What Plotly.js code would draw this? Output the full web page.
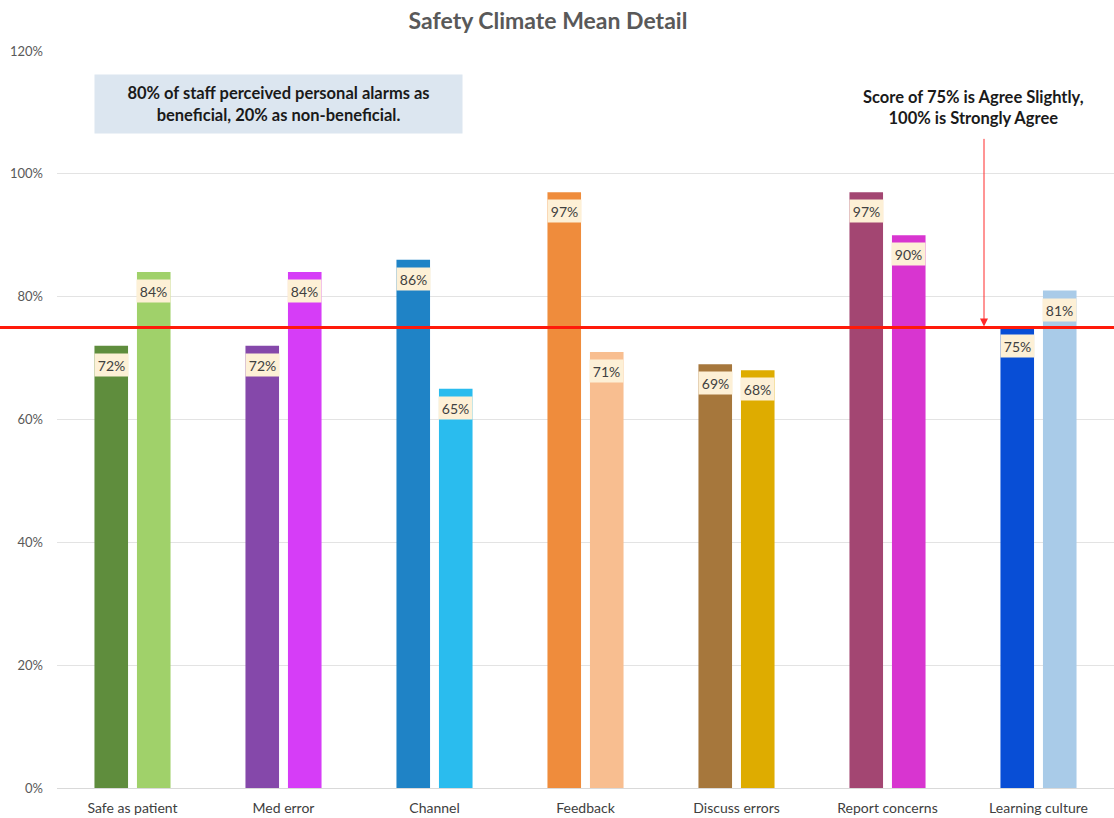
<!DOCTYPE html>
<html><head><meta charset="utf-8">
<script src="https://cdn.plot.ly/plotly-3.0.1.min.js"></script>
<style>html,body{margin:0;padding:0;background:#fff}</style>
</head><body><div id="chart" style="width:1114px;height:818px"></div>
<script>
const categories = ["Safe as patient","Med error","Channel","Feedback","Discuss errors","Report concerns","Learning culture"];
const seriesA = [72,72,86,97,69,97,75];
const seriesB = [84,84,65,71,68,90,81];
const colorsA = ["#5f8d3d","#8548aa","#1f83c6","#ef8c3c","#a6773c","#a34672","#084ed6"];
const colorsB = ["#a0d16a","#d63df7","#2abcee","#f8be90","#deac00","#d835d0","#a9cbe8"];
const tickVals = [0,20,40,60,80,100,120];
const thresholdValue = 75;

const W=1114,H=818,ml=57,mr=0,mt=51,mb=30;
const pw=W-ml-mr, ph=H-mt-mb;
const px=x=>(x-ml)/pw, py=y=>(H-mb-y)/ph;
const font="Lato, 'Open Sans', sans-serif";

const traces=[
 {type:'bar',x:categories,y:seriesA,marker:{color:colorsA},hoverinfo:'none'},
 {type:'bar',x:categories,y:seriesB,marker:{color:colorsB},hoverinfo:'none'}
];

const annotations=[];
const off=21.25;
categories.forEach((c,i)=>{
 [[seriesA[i],-off],[seriesB[i],off]].forEach(([v,s])=>{
  annotations.push({x:c,y:v,xref:'x',yref:'y',text:v+'%',showarrow:false,
   xshift:s,yshift:-7,yanchor:'top',xanchor:'center',bgcolor:'#fdf0d6',
   width:33,height:22,borderpad:0,font:{family:font,size:14,color:'#404040'}});
 });
});
annotations.push({xref:'paper',yref:'paper',x:px(278.5),y:py(104),xanchor:'center',yanchor:'middle',
 text:'<b>80% of staff perceived personal alarms as<br>beneficial, 20% as non-beneficial.</b>',
 showarrow:false,bgcolor:'#dce6f0',width:367,height:58,borderpad:0,
 font:{family:font,size:16.5,color:'#1a1a1a'}});
annotations.push({xref:'paper',yref:'paper',x:px(973),y:py(107),xanchor:'center',yanchor:'middle',
 text:'<b>Score of 75% is Agree Slightly,<br>100% is Strongly Agree</b>',showarrow:false,
 font:{family:font,size:16.5,color:'#1a1a1a'}});
annotations.push({xref:'paper',yref:'y',x:px(984),y:thresholdValue,text:'',showarrow:true,
 axref:'pixel',ayref:'pixel',ax:0,ay:-190,arrowcolor:'#ff2a2a',arrowwidth:1,arrowhead:2,arrowsize:1.6,standoff:1});

const layout={
 width:W,height:H,margin:{l:ml,r:mr,t:mt,b:mb},
 paper_bgcolor:'#fff',plot_bgcolor:'#fff',showlegend:false,
 barmode:'group',bargap:0.437,bargroupgap:0.21,
 font:{family:font},
 title:{text:'<b>Safety Climate Mean Detail</b>',x:548/W,xref:'container',xanchor:'center',y:1-21/H,yref:'container',yanchor:'middle',
  font:{family:font,size:23,color:'#595959'}},
 xaxis:{type:'category',showgrid:false,showline:false,zeroline:false,ticks:'',
  tickfont:{family:font,size:14,color:'#404040'},ticklabelstandoff:10,fixedrange:true},
 yaxis:{range:[0,120],tickvals:tickVals,ticktext:tickVals.map(v=>v+'%'),showgrid:true,gridcolor:'#e3e3e3',gridwidth:1,
  zeroline:true,zerolinecolor:'#d9d9d9',zerolinewidth:1,showline:false,ticks:'',
  tickfont:{family:font,size:13,color:'#595959'},ticklabelstandoff:13,fixedrange:true},
 shapes:[{type:'line',xref:'paper',yref:'y',x0:-ml/pw,x1:1,y0:thresholdValue,y1:thresholdValue,
  line:{color:'#ff1a0a',width:3},layer:'above'}],
 annotations:annotations
};
Plotly.newPlot('chart',traces,layout,{staticPlot:true,displayModeBar:false});
</script></body></html>
